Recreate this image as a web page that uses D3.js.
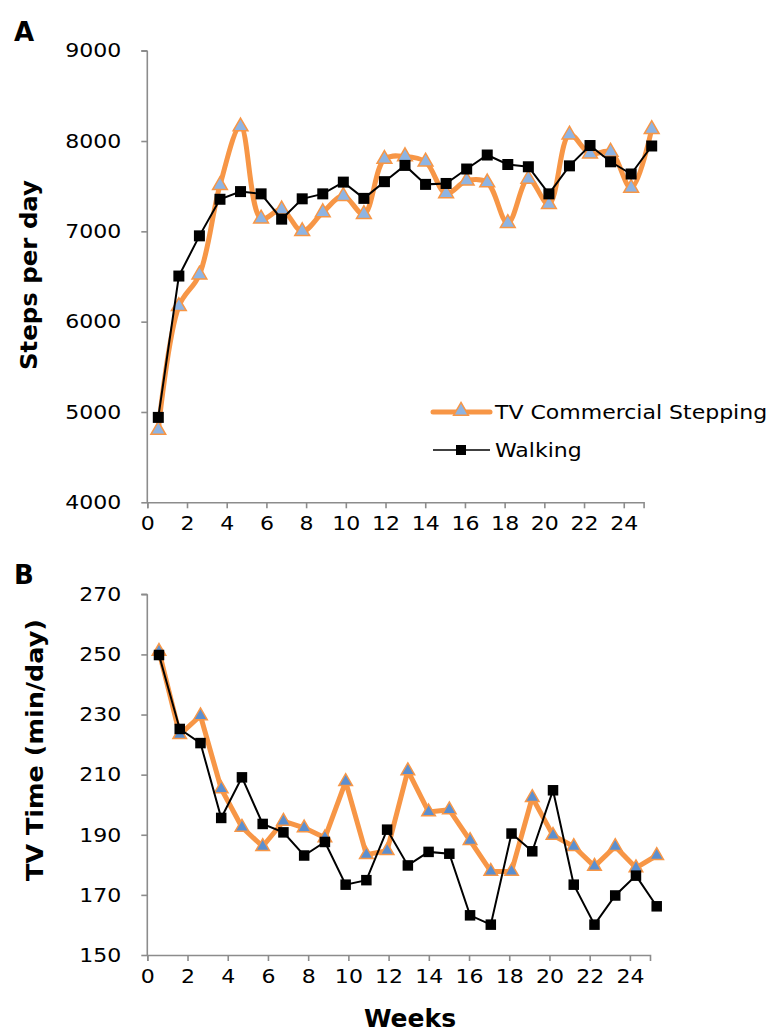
<!DOCTYPE html>
<html><head><meta charset="utf-8">
<script src="https://cdn.jsdelivr.net/npm/d3@7"></script>
<style>
html,body{margin:0;padding:0;background:#fff;}
svg{display:block;}
text{font-family:"DejaVu Sans",sans-serif;fill:#000;}
</style></head>
<body>
<svg id="c" width="774" height="1033"></svg>
<script>
// ---- data ----
const weeks = [1,2,3,4,5,6,7,8,9,10,11,12,13,14,15,16,17,18,19,20,21,22,23,24,25];
const xTicks = [0,2,4,6,8,10,12,14,16,18,20,22,24];
const stepsTicks = [4000,5000,6000,7000,8000,9000];
const tvTicks = [150,170,190,210,230,250,270];
const seriesNames = ["TV Commercial Stepping","Walking"];
const stepsTV = [4800,6170,6520,7510,8160,7140,7240,7000,7210,7390,7190,7800,7830,7770,7420,7560,7540,7090,7580,7300,8070,7860,7880,7480,8130];
const stepsWalk = [4940,6505,6950,7355,7440,7415,7135,7360,7415,7545,7365,7550,7730,7520,7530,7690,7845,7740,7715,7415,7725,7950,7770,7635,7945];
const tvTV = [251,223.3,229.6,205.3,192.5,186.1,194.5,192.3,189,207.7,183.4,184.7,211.3,197.6,198.3,188.1,177.8,177.8,202.4,189.8,186.1,179.5,186.1,179,183.1];
const tvWalk = [249.8,225.2,220.5,195.6,209.1,193.6,190.8,183.1,187.6,173.4,174.9,191.7,179.8,184.3,183.7,163.2,160.1,190.4,184.5,204.8,173.4,160.1,169.8,176.4,166.2];

const ORANGE = "#f79646", AXIS = "#8c8c8c";
const svg = d3.select("#c");

function stretch(sel, k){
  sel.each(function(){
    const w = this.getComputedTextLength();
    d3.select(this).attr("textLength", w*k).attr("lengthAdjust","spacingAndGlyphs");
  });
}

function panel(cfg){
  const g = svg.append("g");
  const x = d3.scaleLinear().domain([0,25]).range(cfg.xr);
  const y = d3.scaleLinear().domain(cfg.ydom).range(cfg.yr);
  const px = d3.scalePoint().domain(weeks).range(cfg.pr);

  const ya = g.append("g").attr("transform",`translate(${cfg.xr[0]},0)`)
    .call(d3.axisLeft(y).tickValues(cfg.yTicks).tickSize(6).tickPadding(20).tickFormat(d3.format("d")));
  const xa = g.append("g").attr("transform",`translate(0,${cfg.yr[0]})`)
    .call(d3.axisBottom(x).tickValues(xTicks).tickSize(6).tickPadding(8).tickFormat(d3.format("d")));
  [ya,xa].forEach(a=>{
    a.selectAll("path.domain").attr("stroke",AXIS).attr("stroke-width",1.6);
    a.selectAll(".tick line").attr("stroke",AXIS).attr("stroke-width",1.6);
    a.selectAll(".tick text").attr("font-size",19.5).attr("font-family","DejaVu Sans").attr("fill","#000");
    stretch(a.selectAll(".tick text"), 1.13);
  });
  ya.selectAll("path.domain").attr("d",`M-0,${cfg.yr[0]}V${cfg.yr[1]}M-6,${cfg.yr[1]}H0`);

  const lineTV = d3.line().x((d,i)=>px(weeks[i])).y(d=>y(d)).curve(cfg.smooth ? d3.curveCatmullRom.alpha(0.5) : d3.curveLinear);
  g.append("path").datum(cfg.tv).attr("d",lineTV).attr("fill","none").attr("stroke",ORANGE).attr("stroke-width",5).attr("stroke-linejoin","round");
  g.selectAll(".tri").data(cfg.tv).enter().append("path")
    .attr("d",d3.symbol(d3.symbolTriangle).size(cfg.triSize))
    .attr("transform",(d,i)=>`translate(${px(weeks[i])},${y(d)})`)
    .attr("fill",cfg.triFill).attr("stroke",ORANGE).attr("stroke-width",1.5);
  const lineW = d3.line().x((d,i)=>px(weeks[i])).y(d=>y(d));
  g.append("path").datum(cfg.walk).attr("d",lineW).attr("fill","none").attr("stroke","#000").attr("stroke-width",2);
  g.selectAll(".sq").data(cfg.walk).enter().append("rect")
    .attr("x",(d,i)=>px(weeks[i])-cfg.sq/2).attr("y",d=>y(d)-cfg.sq/2)
    .attr("width",cfg.sq).attr("height",cfg.sq).attr("fill","#000");

  svg.append("text").attr("x",14).attr("y",cfg.letterY).attr("font-family","Liberation Sans").attr("font-weight","bold").attr("font-size",26).text(cfg.letter);
  const t = svg.append("text").attr("transform",`translate(${cfg.titleX},${cfg.titleY}) rotate(-90)`)
    .attr("text-anchor","middle").attr("font-family","Open Sans").attr("font-weight","bold").attr("font-size",23).text(cfg.title);
  t.attr("textLength", cfg.titleLen).attr("lengthAdjust","spacingAndGlyphs");
  return {x,y,px};
}

panel({xr:[147.3,643.6], yr:[502.3,50.7], pr:[158.3,651.7], ydom:[4000,9000], yTicks:stepsTicks,
  tv:stepsTV, walk:stepsWalk, smooth:true, triSize:95, triFill:"#8eb4e3", sq:11,
  letter:"A", letterY:41, title:"Steps per day", titleX:37, titleY:275, titleLen:190});
panel({xr:[147.3,650], yr:[955,594.3], pr:[159,656.7], ydom:[150,270], yTicks:tvTicks,
  tv:tvTV, walk:tvWalk, smooth:false, triSize:80, triFill:"#5b8fd0", sq:10.5,
  letter:"B", letterY:584, title:"TV Time (min/day)", titleX:43, titleY:750, titleLen:262});

svg.append("text").attr("x",410).attr("y",1027).attr("text-anchor","middle")
  .attr("font-family","Open Sans").attr("font-weight","800").attr("font-size",25).text("Weeks");

const lg = svg.append("g");
const rows = [{y:412, name:seriesNames[0]},{y:450, name:seriesNames[1]}];
lg.append("line").attr("x1",433).attr("x2",490).attr("y1",rows[0].y).attr("y2",rows[0].y).attr("stroke",ORANGE).attr("stroke-width",5).attr("stroke-linecap","round");
lg.append("path").attr("d",d3.symbol(d3.symbolTriangle).size(95)).attr("transform",`translate(461,${rows[0].y-1})`).attr("fill","#8eb4e3").attr("stroke",ORANGE).attr("stroke-width",1.5);
lg.append("line").attr("x1",433).attr("x2",490).attr("y1",rows[1].y).attr("y2",rows[1].y).attr("stroke","#000").attr("stroke-width",1.5);
lg.append("rect").attr("x",456).attr("y",rows[1].y-5).attr("width",10).attr("height",10).attr("fill","#000");
rows.forEach(r=>{
  const t = lg.append("text").attr("x",495).attr("y",r.y).attr("dy","0.35em").attr("font-size",20).text(r.name);
  stretch(t, 1.1);
});
</script>
</body></html>
